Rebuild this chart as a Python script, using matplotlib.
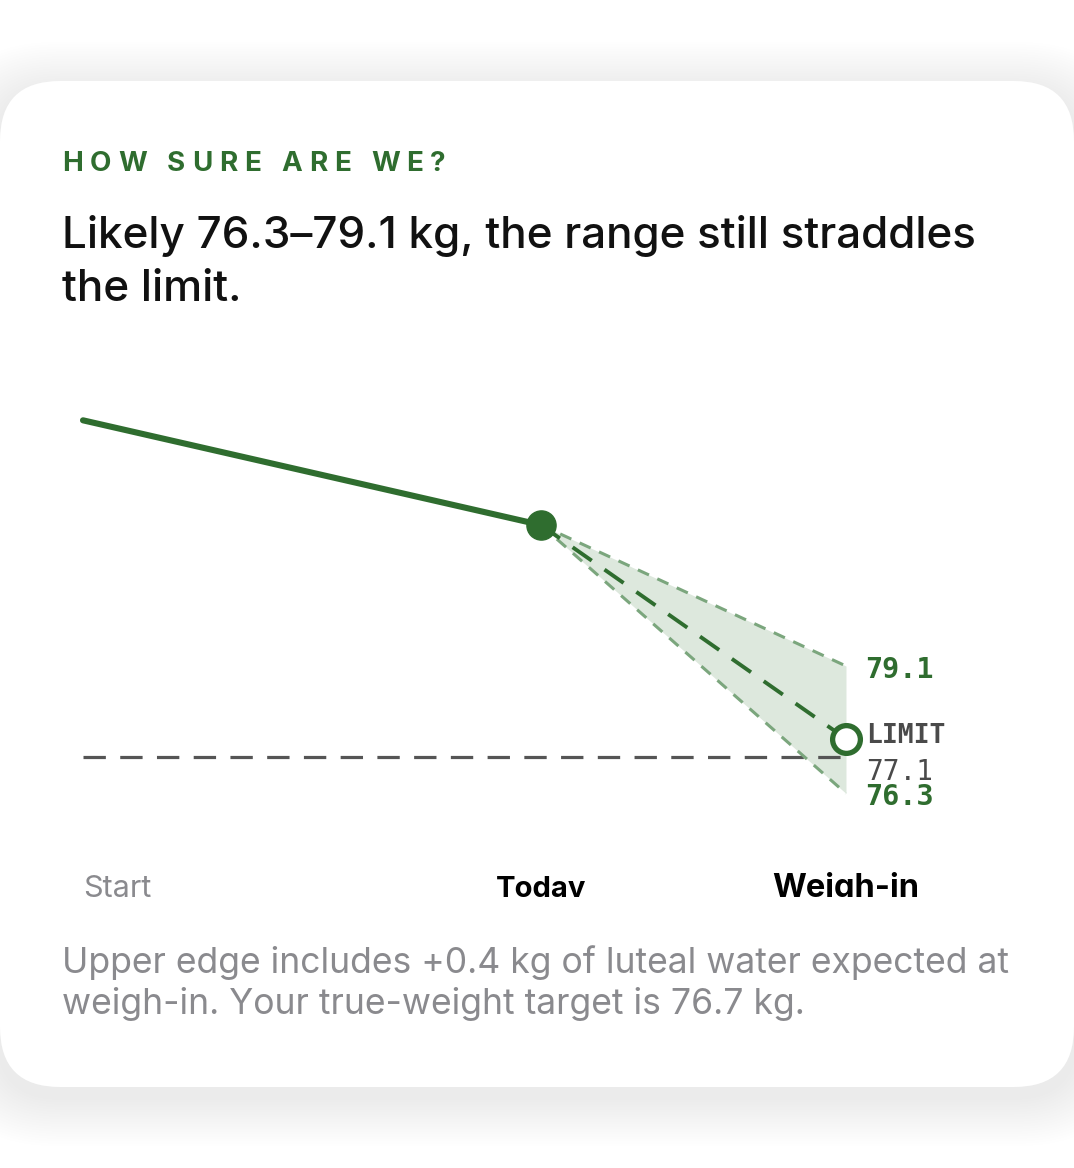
import numpy as np
import matplotlib.pyplot as plt
from matplotlib.patches import FancyBboxPatch

# data
days = [0, 21, 35]
day_labels = ['Start', 'Today', 'Weigh-in']
history_days = [0, 21]
history_kg = [84.5, 82.2]
proj_days = [21, 35]
proj_mid = [82.2, 77.5]
proj_upper = [82.2, 79.1]
proj_lower = [82.2, 76.3]
limit_kg = 77.1

GREEN = '#2f6d2f'
EDGE = '#7ba67d'
FILL = '#dde8dd'
GRAY_TXT = '#8a8a8e'

W, H = 1074, 1168
fig = plt.figure(figsize=(W / 100, H / 100), dpi=100)
fig.patch.set_facecolor('#ffffff')

# background / card, pixel coords
bg = fig.add_axes([0, 0, 1, 1])
bg.set_xlim(0, W)
bg.set_ylim(H, 0)
bg.axis('off')

for i in range(20):
    pad = 4 + i * 3.5
    bg.add_patch(FancyBboxPatch((0 - pad, 81 - pad * 0.7 + 10), 1074 + 2 * pad, 1006 + pad * 1.4,
                                boxstyle='round,pad=0,rounding_size=%d' % (60 + pad),
                                fc='#000000', ec='none', alpha=0.0025))
bg.add_patch(FancyBboxPatch((0, 81), 1074, 1006, boxstyle='round,pad=0,rounding_size=60',
                            fc='white', ec='none'))

# heading with letter spacing
r = fig.canvas.get_renderer()
head = 'HOW SURE ARE WE?'
hkw = dict(fontsize=20, fontweight='bold', color=GREEN, family='Inter')
probe = bg.text(0, 0, 'H', **hkw)
def adv(s):
    probe.set_text(s + 'H')
    w1 = probe.get_window_extent(r).width
    probe.set_text('H')
    return w1 - probe.get_window_extent(r).width
track = 6.8
for i, ch in enumerate(head):
    bg.text(62 + adv(head[:i]) + i * track, 171, ch, va='baseline', ha='left', **hkw)
probe.remove()

bg.text(62, 248, 'Likely 76.3–79.1 kg, the range still straddles', fontsize=31.7,
        family='Inter', fontweight='medium', color='#111111', va='baseline')
bg.text(62, 301, 'the limit.', fontsize=31.7, family='Inter', fontweight='medium',
        color='#111111', va='baseline')

bg.text(62, 973, 'Upper edge includes +0.4 kg of luteal water expected at', fontsize=25.6,
        family='Inter', color=GRAY_TXT, va='baseline')
bg.text(62, 1014, 'weigh-in. Your true-weight target is 76.7 kg.', fontsize=25.6,
        family='Inter', color=GRAY_TXT, va='baseline')

# chart axes
ax = fig.add_axes([40 / W, (H - 897) / H, 1000 / W, 517 / H])
ax.set_facecolor('none')
ax.set_xlim(-1.972, 43.9)
ax.set_ylim(74.023, 85.386)
ax.axis('off')

ax.plot([days[0], days[-1]], [limit_kg, limit_kg], color='#555555', lw=2.3,
        dashes=(7, 4.5), zorder=2)

ax.fill_between(proj_days, proj_lower, proj_upper, color=FILL, lw=0, zorder=1)
ax.plot(proj_days, proj_upper, color=EDGE, lw=2.2, dashes=(4, 3), zorder=3)
ax.plot(proj_days, proj_lower, color=EDGE, lw=2.2, dashes=(4, 3), zorder=3)
ax.plot(proj_days, proj_mid, color=GREEN, lw=2.8, dashes=(6, 4), zorder=4)

ax.plot(history_days, history_kg, color=GREEN, lw=4.4, solid_capstyle='round', zorder=5)
ax.plot(history_days[-1], history_kg[-1], 'o', ms=21, color=GREEN, zorder=6)
ax.plot(proj_days[-1], proj_mid[-1], 'o', ms=20, mfc='white', mec=GREEN, mew=3.8, zorder=7)

mono = 'DejaVu Sans Mono'
ax.annotate('%.1f' % proj_upper[-1], (proj_days[-1], proj_upper[-1]), xytext=(19, -4),
            textcoords='offset pixels', va='center', ha='left', family=mono,
            fontsize=20.5, fontweight='bold', color=GREEN)
ax.annotate('%.1f' % proj_lower[-1], (proj_days[-1], proj_lower[-1]), xytext=(19, -4),
            textcoords='offset pixels', va='center', ha='left', family=mono,
            fontsize=20.5, fontweight='bold', color=GREEN, zorder=9)
ax.annotate('LIMIT', (proj_days[-1], limit_kg), xytext=(20, 21),
            textcoords='offset pixels', va='center', ha='left', family=mono,
            fontsize=19, fontweight='bold', color='#4a4a4a')
ax.annotate('%.1f' % limit_kg, (proj_days[-1], limit_kg), xytext=(20, -15),
            textcoords='offset pixels', va='center', ha='left', family=mono,
            fontsize=20, color='#4a4a4a', zorder=8)

tr = ax.get_xaxis_transform()
ax.text(days[0], 0.0, day_labels[0], transform=tr, ha='left', va='baseline',
        fontsize=22, family='Inter', color=GRAY_TXT, clip_on=True)
ax.text(days[1], 0.0, day_labels[1], transform=tr, ha='center', va='baseline',
        fontsize=21, family='Inter', fontweight='bold', color='black', clip_on=True)
ax.text(days[2], 0.0, day_labels[2], transform=tr, ha='center', va='baseline',
        fontsize=23.5, family='Inter', fontweight='bold', color='black', clip_on=True)

fig.savefig('out.png', dpi=100)
